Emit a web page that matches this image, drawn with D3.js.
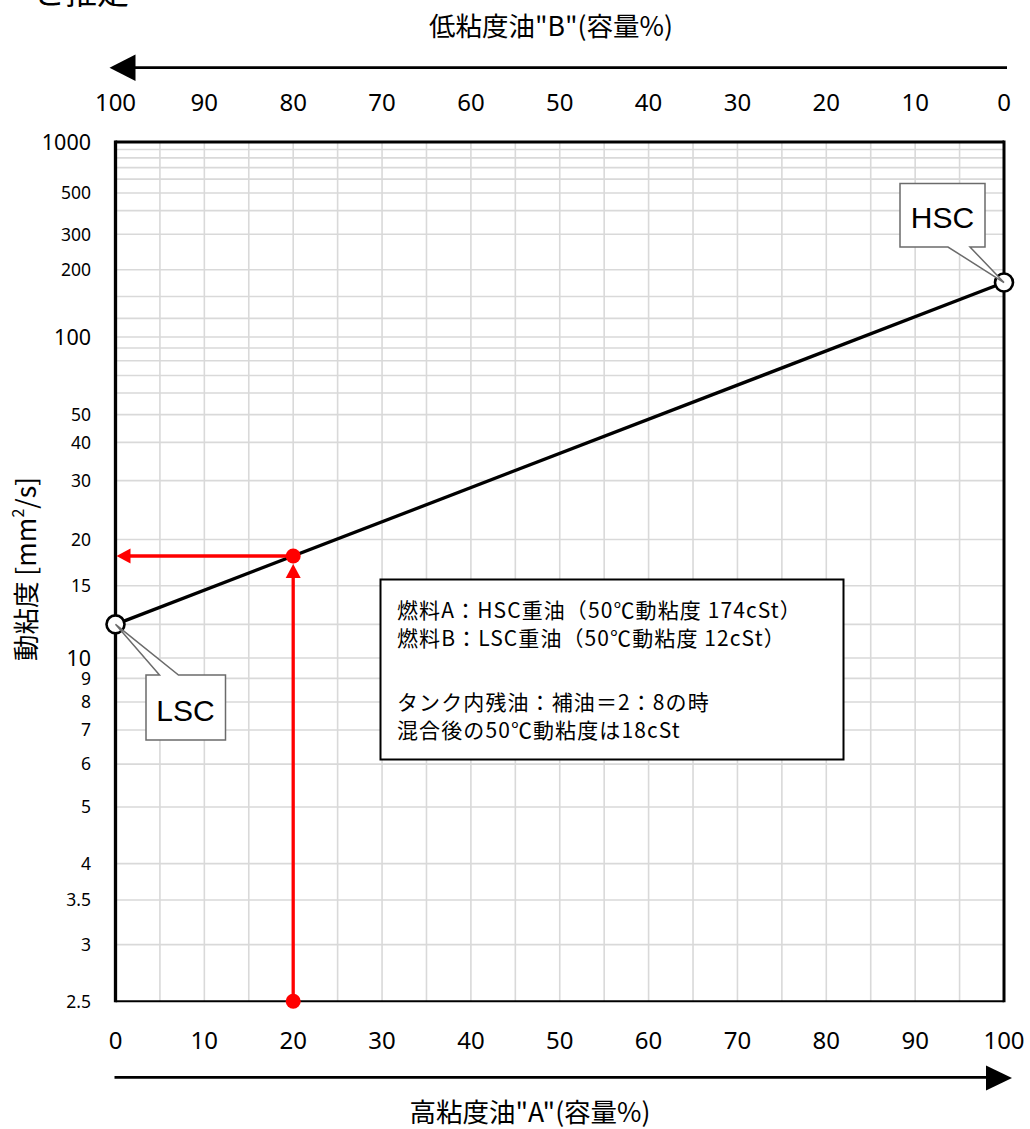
<!DOCTYPE html>
<html><head><meta charset="utf-8">
<script src="https://cdn.jsdelivr.net/npm/d3@7"></script>
<style>
html,body{margin:0;padding:0;background:#fff;}
svg{display:block;}
</style></head>
<body>
<svg id="c" width="1030" height="1129"></svg>
<script>
// ---- data ----
const xTicks = [0,10,20,30,40,50,60,70,80,90,100];          // 高粘度油"A" (%)
const xGrid = [5,10,15,20,25,30,35,40,45,50,55,60,65,70,75,80,85,90,95];
const yTickLabels = [1000,500,300,200,100,50,40,30,20,15,10,9,8,7,6,5,4,3.5,3,2.5];
const yMajorLabels = [1000,100,10];
const yGrid = [900,800,700,600,500,400,300,200,150,120,100,90,80,70,60,50,40,30,20,15,12,10,9,8,7,6,5,4,3.5,3];
const yDomain = [2.5,1000];
const fuelNames = ["LSC","HSC"];
const fuelPctA = [0,100];
const fuelVisc = [12,174];
const mixPctA = [20];
const mixVisc = [18];
const noteLines = ["燃料A：HSC重油（50℃動粘度 174cSt）","燃料B：LSC重油（50℃動粘度 12cSt）","","タンク内残油：補油＝2：8の時","混合後の50℃動粘度は18cSt"];

// ---- scales ----
const T = v => Math.log10(Math.log10(v + 0.7));   // ASTM D341 viscosity transform
const x = d3.scaleLinear().domain([0,100]).range([115.5,1004]);
const xTop = d3.scaleLinear().domain([100,0]).range([115.5,1004]);
const yT = d3.scaleLinear().domain([T(yDomain[0]),T(yDomain[1])]).range([1001.3,142.1]);
const y = v => yT(T(v));

const svg = d3.select("#c");
const NUM = "'Noto Sans', 'Noto Sans CJK JP', sans-serif";
const JP = "'Noto Sans CJK JP', 'Noto Sans', sans-serif";

// cut-off heading
svg.append("text").attr("x",33).attr("y",4).attr("font-family",JP).attr("font-size",32).attr("fill","#000").text("と推定");

// grid
const g = svg.append("g");
g.selectAll(".hg").data(yGrid).join("line")
  .attr("x1",x(0)).attr("x2",x(100)).attr("y1",d=>y(d)).attr("y2",d=>y(d))
  .attr("stroke","#d9d9d9").attr("stroke-width",1.6);
g.selectAll(".vg").data(xGrid).join("line")
  .attr("x1",d=>x(d)).attr("x2",d=>x(d)).attr("y1",y(yDomain[1])).attr("y2",y(yDomain[0]))
  .attr("stroke","#d9d9d9").attr("stroke-width",1.6);

// frame
svg.append("line").attr("x1",x(0)).attr("x2",x(100)).attr("y1",y(yDomain[0])).attr("y2",y(yDomain[0])).attr("stroke","#000").attr("stroke-width",2);
svg.append("line").attr("x1",x(0)).attr("x2",x(100)).attr("y1",y(yDomain[1])).attr("y2",y(yDomain[1])).attr("stroke","#000").attr("stroke-width",3);
svg.append("line").attr("x1",x(0)).attr("x2",x(0)).attr("y1",y(yDomain[1])-1.5).attr("y2",y(yDomain[0])+1).attr("stroke","#000").attr("stroke-width",3.3);
svg.append("line").attr("x1",x(100)).attr("x2",x(100)).attr("y1",y(yDomain[1])-1.5).attr("y2",y(yDomain[0])+1).attr("stroke","#000").attr("stroke-width",3);

// y tick labels
svg.selectAll(".yl").data(yTickLabels).join("text")
  .attr("x",91).attr("y",d=>y(d)).attr("dy","0.36em").attr("text-anchor","end")
  .attr("font-family",NUM).attr("font-size",d=>yMajorLabels.includes(d)?21.5:17.5).attr("fill","#000")
  .text(d=>d);

// bottom x labels
svg.selectAll(".xl").data(xTicks).join("text")
  .attr("x",d=>x(d)).attr("y",1049).attr("text-anchor","middle")
  .attr("font-family",NUM).attr("font-size",24).attr("fill","#000").text(d=>d);
// top x labels (B %)
svg.selectAll(".tl").data(xTicks).join("text")
  .attr("x",d=>xTop(d)).attr("y",111).attr("text-anchor","middle")
  .attr("font-family",NUM).attr("font-size",24).attr("fill","#000").text(d=>d);

// top arrow (towards B = 100 at left)
svg.append("line").attr("x1",xTop(100)+18).attr("x2",xTop(0)+3).attr("y1",67.7).attr("y2",67.7).attr("stroke","#000").attr("stroke-width",2.8);
svg.append("path").attr("d",`M${xTop(100)-6},67.7 L${xTop(100)+20},54.5 L${xTop(100)+20},81 Z`).attr("fill","#000");
// bottom arrow (towards A = 100 at right)
svg.append("line").attr("x1",x(0)-1).attr("x2",x(100)-12).attr("y1",1077.3).attr("y2",1077.3).attr("stroke","#000").attr("stroke-width",2.8);
svg.append("path").attr("d",`M${x(100)+8},1078 L${x(100)-18},1065.5 L${x(100)-18},1090.5 Z`).attr("fill","#000");

// axis titles
svg.append("text").attr("x",551).attr("y",36).attr("text-anchor","middle").attr("font-family",JP).attr("font-size",26.5).attr("fill","#000").text('低粘度油"B"(容量%)');
svg.append("text").attr("x",530).attr("y",1122).attr("text-anchor","middle").attr("font-family",JP).attr("font-size",26.5).attr("fill","#000").text('高粘度油"A"(容量%)');
svg.append("text").attr("transform","translate(36,569) rotate(-90)").attr("text-anchor","middle").attr("font-family",JP).attr("font-size",26.5).attr("fill","#000")
  .html('動粘度 [mm<tspan baseline-shift="super" font-size="16">2</tspan>/s]');

// blend line
const pts = fuelPctA.map((p,i)=>({p, v:fuelVisc[i], name:fuelNames[i]}));
svg.append("path").datum(pts)
  .attr("d",d3.line().x(d=>x(d.p)).y(d=>y(d.v)))
  .attr("fill","none").attr("stroke","#000").attr("stroke-width",3.3);

// red construction lines
const mp = {p:mixPctA[0], v:mixVisc[0]};
const mx = x(mp.p), my = y(mp.v);
svg.append("line").attr("x1",mx).attr("x2",mx).attr("y1",y(yDomain[0])).attr("y2",my+20).attr("stroke","#ff0000").attr("stroke-width",3.3);
svg.append("path").attr("d",`M${mx},${my+8} L${mx-7.5},${my+22} L${mx+7.5},${my+22} Z`).attr("fill","#ff0000");
svg.append("line").attr("x1",mx).attr("x2",x(0)+12).attr("y1",my).attr("y2",my).attr("stroke","#ff0000").attr("stroke-width",3.3);
svg.append("path").attr("d",`M${x(0)+1},${my} L${x(0)+15},${my-7.5} L${x(0)+15},${my+7.5} Z`).attr("fill","#ff0000");
svg.append("circle").attr("cx",mx).attr("cy",my).attr("r",7.5).attr("fill","#ff0000");
svg.append("circle").attr("cx",mx).attr("cy",y(yDomain[0])).attr("r",7.5).attr("fill","#ff0000");

// fuel markers
svg.selectAll(".mk").data(pts).join("circle")
  .attr("cx",d=>x(d.p)).attr("cy",d=>y(d.v)).attr("r",9)
  .attr("fill","#fff").attr("stroke","#000").attr("stroke-width",2.6);

// callouts
const hsc = pts[1], lsc = pts[0];
const hx = x(hsc.p), hy = y(hsc.v);
svg.append("path").attr("d",`M900,183.5 H985 V247 H970 L${hx},${hy} L948,247 H900 Z`)
  .attr("fill","#fff").attr("stroke","#6b6b6b").attr("stroke-width",1.5);
svg.append("text").attr("x",942.5).attr("y",228).attr("text-anchor","middle").attr("font-family","'Liberation Sans', Arial, sans-serif").attr("font-size",30).attr("fill","#000").text(hsc.name);
const lx = x(lsc.p), ly = y(lsc.v);
svg.append("path").attr("d",`M146,675 H159.5 L${lx},${ly} L178.5,675 H225.5 V740 H146 Z`)
  .attr("fill","#fff").attr("stroke","#6b6b6b").attr("stroke-width",1.5);
svg.append("text").attr("x",185.5).attr("y",720.5).attr("text-anchor","middle").attr("font-family","'Liberation Sans', Arial, sans-serif").attr("font-size",30).attr("fill","#000").text(lsc.name);

// note box
svg.append("rect").attr("x",380.5).attr("y",579.5).attr("width",463).attr("height",180).attr("fill","#fff").attr("stroke","#000").attr("stroke-width",2);
const lineY = [618,646,0,710,738];
svg.selectAll(".nt").data(noteLines).join("text")
  .attr("x",397).attr("y",(d,i)=>lineY[i]).attr("font-family",JP).attr("font-size",21).attr("letter-spacing",1.1).attr("fill","#000")
  .text(d=>d);
</script>
</body></html>
